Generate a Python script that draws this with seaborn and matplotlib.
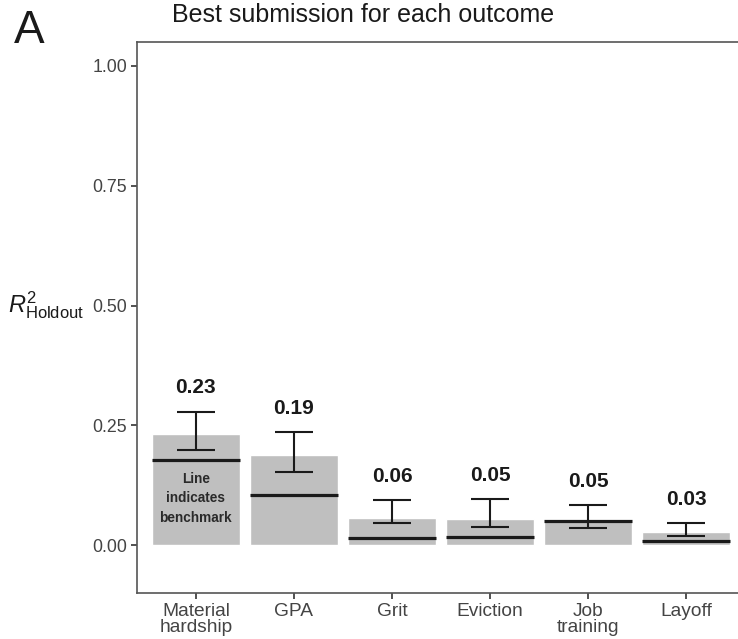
import matplotlib
matplotlib.use("Agg")
import matplotlib.pyplot as plt
import seaborn as sns
import pandas as pd
import numpy as np

categories = ["Material\nhardship", "GPA", "Grit", "Eviction", "Job\ntraining", "Layoff"]
best = [0.232, 0.188, 0.056, 0.054, 0.052, 0.027]
benchmark = [0.177, 0.104, 0.015, 0.017, 0.050, 0.008]
ci_low = [0.198, 0.152, 0.046, 0.037, 0.035, 0.019]
ci_high = [0.278, 0.236, 0.094, 0.096, 0.083, 0.046]
bar_labels = ["0.23", "0.19", "0.06", "0.05", "0.05", "0.03"]
y_ticks = [0.00, 0.25, 0.50, 0.75, 1.00]
y_ticklabels = ["0.00", "0.25", "0.50", "0.75", "1.00"]

sns.set_theme(style="white")
plt.rcParams["font.family"] = ["Liberation Sans", "DejaVu Sans"]
plt.rcParams["mathtext.fontset"] = "custom"
plt.rcParams["mathtext.rm"] = "Liberation Sans"
plt.rcParams["mathtext.it"] = "Liberation Sans:italic"

df = pd.DataFrame({"outcome": categories, "r2": best})

fig = plt.figure(figsize=(7.38, 6.39), dpi=100)
ax = fig.add_axes([137 / 738, 1 - 593 / 639, (745 - 137) / 738, (593 - 42) / 639])

sns.barplot(data=df, x="outcome", y="r2", color="#BFBFBF", saturation=1,
            width=0.9, ax=ax, errorbar=None)

x = np.arange(len(categories))
ax.hlines(benchmark, x - 0.45, x + 0.45, colors="#1a1a1a", linewidth=2.3, zorder=3)

lo = np.array(best) - np.array(ci_low)
hi = np.array(ci_high) - np.array(best)
ax.errorbar(x, best, yerr=[lo, hi], fmt="none", ecolor="#1a1a1a",
            elinewidth=1.5, capsize=14, capthick=1.5, zorder=4)

for xi, top, lab in zip(x, ci_high, bar_labels):
    ax.text(xi, top + 0.05, lab, ha="center", va="center", fontsize=15,
            fontweight="bold", color="#1a1a1a")

ax.text(x[0], 0.098, "Line\nindicates\nbenchmark", ha="center", va="center",
        fontsize=9.8, fontweight="bold", color="#2a2a2a", linespacing=1.5)

ax.set_xlim(-0.6, 5.6)
ax.set_ylim(-0.1, 1.05)
ax.set_yticks(y_ticks)
ax.set_yticklabels(y_ticklabels)
ax.set_xlabel("")
ax.set_ylabel("")
ax.tick_params(axis="both", which="both", length=4, width=1.2, color="#333333",
               labelcolor="#444444", pad=3, left=True, bottom=True)
ax.tick_params(axis="y", labelsize=12.8)
ax.tick_params(axis="x", labelsize=13.8)
for lbl in ax.get_xticklabels():
    lbl.set_linespacing(0.95)
for s in ax.spines.values():
    s.set_color("#555555")
    s.set_linewidth(1.2)
    s.set_visible(True)
ax.spines["right"].set_visible(False)

fig.text(172 / 738, 1 - 15 / 639, "Best submission for each outcome", ha="left",
         va="center", fontsize=18, color="#1a1a1a")
fig.text(14 / 738, 1 - 31 / 639, "A", ha="left", va="center", fontsize=33,
         color="#1a1a1a")
fig.text(8 / 738, 1 - 305 / 639, r"$R^{2}_{\mathrm{Holdout}}$", ha="left", va="center",
         fontsize=17, color="#1a1a1a")

fig.savefig("out.png", dpi=100)
